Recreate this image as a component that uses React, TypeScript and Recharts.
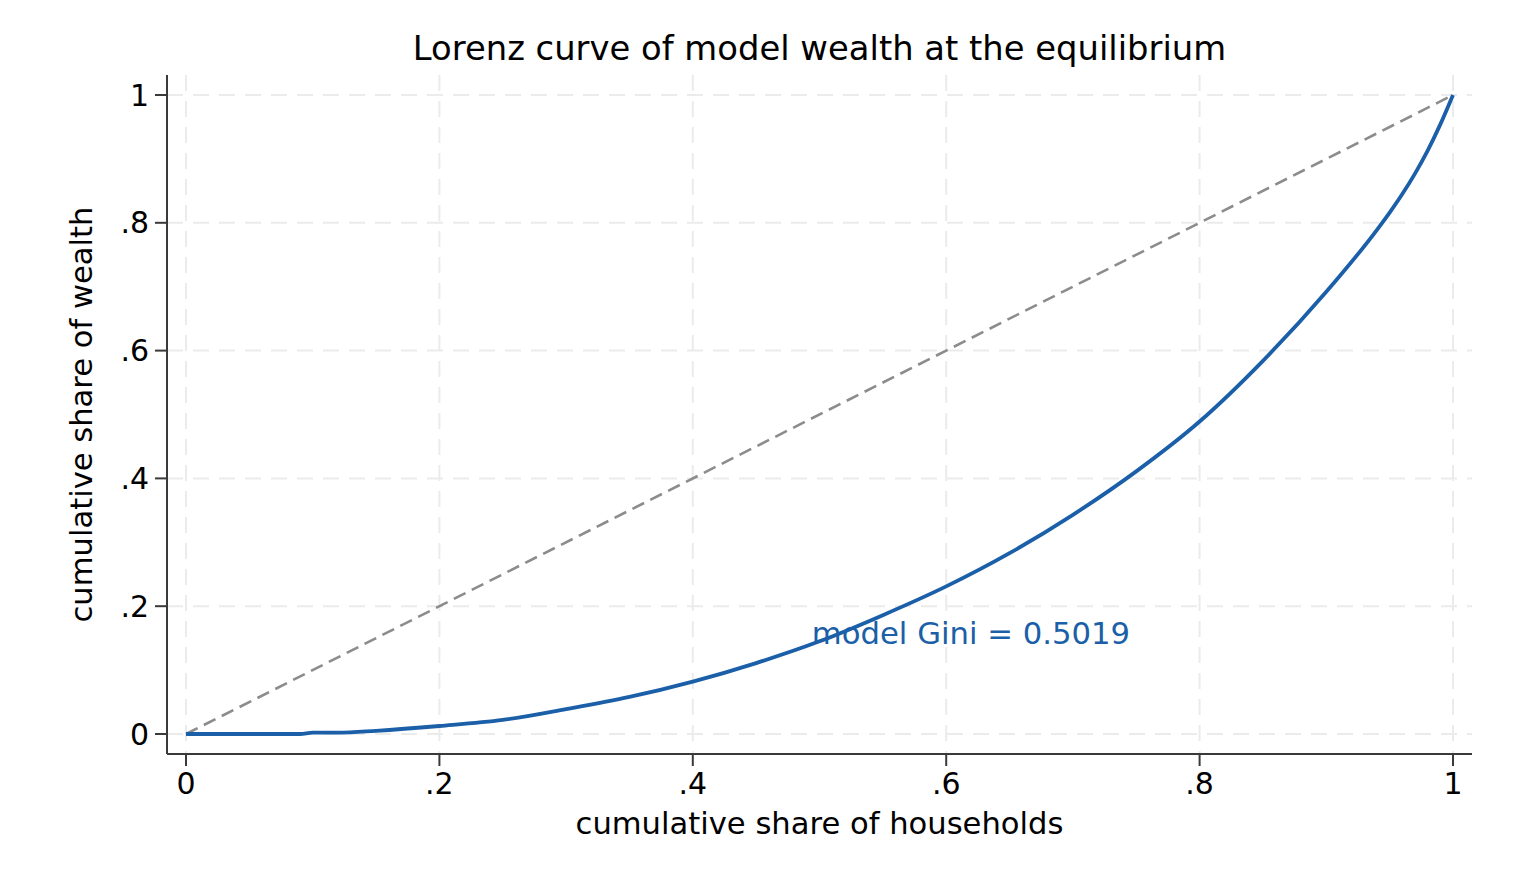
import { LineChart, Line, XAxis, YAxis, CartesianGrid, ReferenceDot, Label } from "recharts";

// cumulative share of households (x) and of wealth (y)
const shareHouseholds = [0, 0.05, 0.09, 0.1, 0.12, 0.15, 0.2, 0.25, 0.3, 0.35, 0.4, 0.45, 0.5, 0.55, 0.6, 0.65, 0.7, 0.75, 0.8, 0.85, 0.9, 0.94, 0.95, 0.96, 0.97, 0.98, 0.99, 1];
const shareWealth = [0, 0, 0, 0.002, 0.002, 0.005, 0.0125, 0.022, 0.039, 0.058, 0.082, 0.111, 0.145, 0.186, 0.231, 0.283, 0.343, 0.411, 0.489, 0.584, 0.692, 0.789, 0.816, 0.845, 0.877, 0.913, 0.954, 1];

// line of perfect equality
const equalityX = [0, 1];
const equalityY = [0, 1];

const axisTicks = [0, 0.2, 0.4, 0.6, 0.8, 1];
const giniText = "model Gini = 0.5019";

const lorenz = shareHouseholds.map((x, i) => ({ x, y: shareWealth[i] }));
const equality = equalityX.map((x, i) => ({ x, y: equalityY[i] }));

const fmt = (v: number) => (v === 0 ? "0" : v === 1 ? "1" : String(v).replace(/^0/, ""));

const FONT = "'DejaVu Sans', sans-serif";
const BLUE = "#1a5fa8";
const AXIS = "#3a3a3a";

const App = () => {
  return (
    <div style={{ position: "absolute", left: 0, top: 0, width: 1536, height: 883, background: "#fff", fontFamily: FONT }}>
      <div
        style={{
          position: "absolute",
          left: 167,
          width: 1305,
          top: 32,
          textAlign: "center",
          fontSize: 33.8,
          lineHeight: "34px",
          color: "#000",
        }}
      >
        Lorenz curve of model wealth at the equilibrium
      </div>
      <LineChart width={1536} height={883} margin={{ top: 75, right: 64, bottom: 0, left: 0 }}>
        <CartesianGrid stroke="#ebebeb" strokeWidth={2} strokeDasharray="16 10" syncWithTicks />
        <XAxis
          type="number"
          dataKey="x"
          domain={[-0.015, 1.015]}
          ticks={axisTicks}
          tickFormatter={fmt}
          height={129}
          tickSize={12}
          tickMargin={7}
          stroke={AXIS}
          strokeWidth={2}
          tick={{ fill: "#000", fontSize: 30, fontFamily: FONT }}
          allowDataOverflow
        >
          <Label
            value="cumulative share of households"
            position="insideTop"
            offset={58}
            fill="#000"
            fontSize={30.6}
            fontFamily={FONT}
          />
        </XAxis>
        <YAxis
          type="number"
          dataKey="y"
          domain={[-0.0313, 1.0313]}
          ticks={axisTicks}
          tickFormatter={fmt}
          width={167}
          tickSize={12}
          tickMargin={6}
          stroke={AXIS}
          strokeWidth={2}
          tick={{ fill: "#000", fontSize: 30, fontFamily: FONT }}
          allowDataOverflow
        >
          <Label
            value="cumulative share of wealth"
            position="center"
            angle={-90}
            dx={-2}
            fill="#000"
            fontSize={30.6}
            fontFamily={FONT}
          />
        </YAxis>
        <Line
          data={equality}
          dataKey="y"
          type="linear"
          stroke="#8c8c8c"
          strokeWidth={2.6}
          strokeDasharray="13 7"
          dot={false}
          activeDot={false}
          isAnimationActive={false}
        />
        <Line
          data={lorenz}
          dataKey="y"
          type="monotone"
          stroke={BLUE}
          strokeWidth={3.8}
          dot={false}
          activeDot={false}
          isAnimationActive={false}
        />
        <ReferenceDot
          x={0.49}
          y={0.158}
          r={0}
          fill="none"
          stroke="none"
          label={{ value: giniText, position: "right", offset: 5, fill: BLUE, fontSize: 30.7, fontFamily: FONT }}
        />
      </LineChart>
    </div>
  );
};

export default App;
